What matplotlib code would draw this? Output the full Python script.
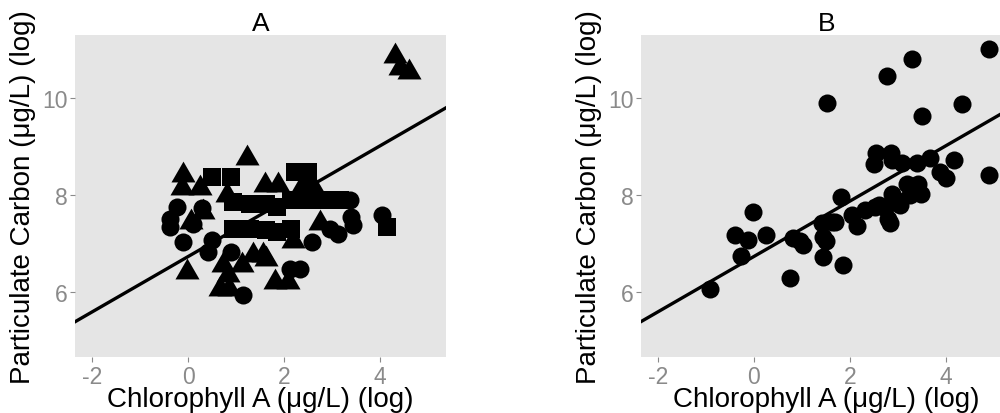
"""
Particulate carbon vs chlorophyll A - two panel scatter (A, B)
with a common fitted line. Values read off the reference figure.
"""

import numpy as np
import matplotlib.pyplot as plt
from matplotlib.path import Path

# -----------------------------
# DATA
# -----------------------------

# Panel A - three groups, drawn as circles, squares and triangles
a_circle_x = [-0.24, -0.38, -0.38, -0.10, 0.28, 0.42, 0.49, 0.90, 1.15, 2.12,
              2.33, 2.57, 3.37, 3.40, 3.44, 3.13, 2.95, 4.03, 0.10]
a_circle_y = [7.76, 7.52, 7.35, 7.04, 7.73, 6.83, 7.07, 6.83, 5.94, 6.49,
              6.49, 7.04, 7.90, 7.55, 7.38, 7.21, 7.31, 7.59, 7.40]

a_square_x = [0.49, 0.90, 2.22, 2.50, 0.94, 1.29, 1.63, 1.84, 2.15, 2.50,
              2.85, 3.16, 0.94, 1.29, 1.63, 1.84, 2.15, 4.15]
a_square_y = [8.38, 8.38, 8.48, 8.48, 7.86, 7.83, 7.83, 7.76, 7.90, 7.90,
              7.90, 7.90, 7.31, 7.31, 7.28, 7.24, 7.31, 7.35]

a_tri_x = [4.31, 4.41, 4.60, 1.22, -0.10, -0.14, 0.24, 0.80, 1.60, 1.88,
           2.40, 2.57, 0.31, 0.05, 2.74, 2.19, -0.03, 0.73, 0.66, 0.85,
           1.56, 1.35, 1.63, 1.81, 2.08, 0.83, 1.11]
a_tri_y = [10.87, 10.61, 10.54, 8.76, 8.41, 8.14, 8.14, 8.00, 8.21, 8.21,
           8.21, 8.21, 7.66, 7.45, 7.42, 7.05, 6.42, 6.56, 6.08, 6.08,
           6.76, 6.76, 6.69, 6.21, 6.21, 6.35, 6.56]

# Panel B - single group
b_x = [-0.92, -0.40, -0.12, -0.01, 0.25, -0.26, 0.75, 0.82, 0.95, 1.03,
       1.41, 1.44, 1.44, 1.51, 1.62, 1.69, 1.86, 1.82, 2.05, 2.14,
       2.31, 2.52, 2.73, 2.80, 2.83, 3.05, 2.87, 3.25, 3.18, 3.42,
       3.49, 2.54, 2.50, 2.85, 2.87, 3.08, 3.39, 3.67, 4.17, 3.88,
       4.01, 1.53, 2.78, 3.29, 3.51, 4.33, 4.90, 4.90, 2.95, 3.35, 2.60]
b_y = [6.08, 7.18, 7.07, 7.66, 7.19, 6.75, 6.30, 7.11, 7.05, 6.97,
       7.42, 7.14, 6.73, 7.05, 7.45, 7.45, 6.56, 7.97, 7.60, 7.36,
       7.69, 7.76, 7.73, 7.52, 7.42, 7.79, 8.03, 8.00, 8.24, 8.24,
       8.03, 8.86, 8.65, 8.88, 8.72, 8.67, 8.67, 8.76, 8.72, 8.48,
       8.36, 9.90, 10.46, 10.81, 9.63, 9.87, 11.01, 8.41, 7.90, 8.10, 7.80]

# fitted line (same in both panels)
fit_intercept = 6.74
fit_slope = 0.57

x_ticks = [-2, 0, 2, 4]
y_ticks = [6, 8, 10]

# -----------------------------
# STYLE
# -----------------------------

plt.rcParams["font.family"] = ["Liberation Sans", "DejaVu Sans"]
plt.rcParams["axes.unicode_minus"] = False

PANEL_BG = "#E5E5E5"
TICK_GREY = "#8A8A8A"

# R-style filled triangle, centred on its centroid
TRIANGLE = Path([(0, 1.555), (-1.347, -0.778), (1.347, -0.778), (0, 1.555)],
                [Path.MOVETO, Path.LINETO, Path.LINETO, Path.CLOSEPOLY])

XLABEL = "Chlorophyll A (\u03bcg/L) (log)"
YLABEL = "Particulate Carbon (\u03bcg/L) (log)"


def style_axis(ax, title):
    ax.set_facecolor(PANEL_BG)
    for s in ax.spines.values():
        s.set_visible(False)
    ax.set_xlim(-2.36, 5.37)
    ax.set_ylim(4.67, 11.3)
    ax.set_xticks(x_ticks)
    ax.set_yticks(y_ticks)
    ax.tick_params(axis="both", colors=TICK_GREY, labelsize=16.5,
                   length=3.5, width=0.8)
    ax.tick_params(axis="x", pad=2)
    ax.tick_params(axis="y", pad=1.5)
    ax.set_xlabel(XLABEL, fontsize=20)
    ax.set_ylabel(YLABEL, fontsize=20)
    ax.xaxis.set_label_coords(0.5, -0.090)
    ax.yaxis.set_label_coords(-0.105, 0.5)
    ax.set_title(title, fontsize=19, pad=2)
    ax.axline((0, fit_intercept), slope=fit_slope, color="black",
              linewidth=2.4, zorder=2)


# -----------------------------
# PLOT
# -----------------------------

def main():
    fig = plt.figure(figsize=(10, 4.14), dpi=100)

    ax_a = fig.add_axes([0.075, 0.1353, 0.371, 0.7778])
    ax_b = fig.add_axes([0.6407, 0.1353, 0.371, 0.7778])

    style_axis(ax_a, "A")
    ax_a.scatter(a_circle_x, a_circle_y, marker="o", s=13**2,
                 color="black", linewidths=0, zorder=3)
    ax_a.scatter(a_square_x, a_square_y, marker="s", s=13.5**2,
                 color="black", linewidths=0, zorder=3)
    ax_a.scatter(a_tri_x, a_tri_y, marker=TRIANGLE, s=20**2,
                 color="black", linewidths=0, zorder=3)

    style_axis(ax_b, "B")
    ax_b.scatter(b_x, b_y, marker="o", s=13**2,
                 color="black", linewidths=0, zorder=3)

    fig.savefig("out.png", dpi=100)
    plt.close(fig)


if __name__ == "__main__":
    main()
